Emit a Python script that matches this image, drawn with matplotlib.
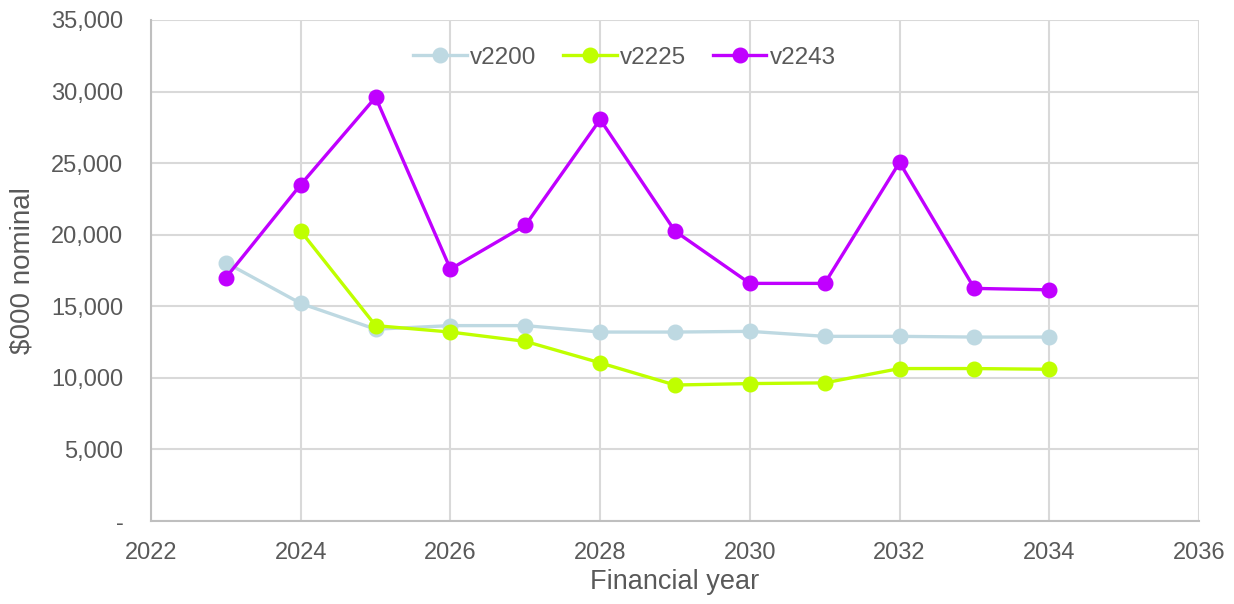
import numpy as np
import matplotlib.pyplot as plt
from matplotlib.ticker import FuncFormatter

plt.rcParams['font.family'] = ['Liberation Sans', 'DejaVu Sans']

# Forecast values, $000 nominal
years = [2023, 2024, 2025, 2026, 2027, 2028, 2029, 2030, 2031, 2032, 2033, 2034]
v2200 = [18050, 15200, 13400, 13650, 13650, 13200, 13200, 13250, 12900, 12900, 12850, 12850]
v2225 = [np.nan, 20250, 13650, 13200, 12550, 11050, 9500, 9600, 9650, 10650, 10650, 10600]
v2243 = [17000, 23500, 29600, 17600, 20650, 28050, 20250, 16600, 16600, 25050, 16250, 16150]

series = [
    ("v2200", v2200, "#bed9e2"),
    ("v2225", v2225, "#bfff00"),
    ("v2243", v2243, "#c000ff"),
]

text_col = "#595959"
grid_col = "#d9d9d9"

fig = plt.figure(figsize=(12.34, 6.04), dpi=100)
ax = fig.add_axes([0.1224, 0.1374, 0.8492, 0.8295])

for name, vals, col in series:
    ax.plot(years, vals, color=col, lw=2.4, marker="o", markersize=10.5,
            label=name, zorder=3)

ax.set_xlim(2022, 2036)
ax.set_ylim(0, 35000)
ax.set_xticks(range(2022, 2037, 2))
ax.set_yticks(range(0, 35001, 5000))
ax.yaxis.set_major_formatter(FuncFormatter(lambda v, p: "-" if v == 0 else f"{v:,.0f}"))

ax.grid(True, color=grid_col, lw=1.5, zorder=0)
for s in ["top", "right"]:
    ax.spines[s].set_visible(False)
for s in ["left", "bottom"]:
    ax.spines[s].set_color("#bfbfbf")
    ax.spines[s].set_linewidth(1.5)
ax.tick_params(length=0, labelsize=17, labelcolor=text_col)
ax.tick_params(axis="x", pad=15)
ax.tick_params(axis="y", pad=20)

ax.set_xlabel("Financial year", fontsize=19.5, color=text_col, labelpad=4)
ax.set_ylabel("$000 nominal", fontsize=20, color=text_col, labelpad=11)

leg = ax.legend(loc="upper center", bbox_to_anchor=(0.452, 0.99), ncol=3,
                frameon=False, fontsize=17.5, handlelength=2.2, handletextpad=0.15,
                columnspacing=1.09)
for t in leg.get_texts():
    t.set_color(text_col)

fig.savefig("out.png", dpi=100)
